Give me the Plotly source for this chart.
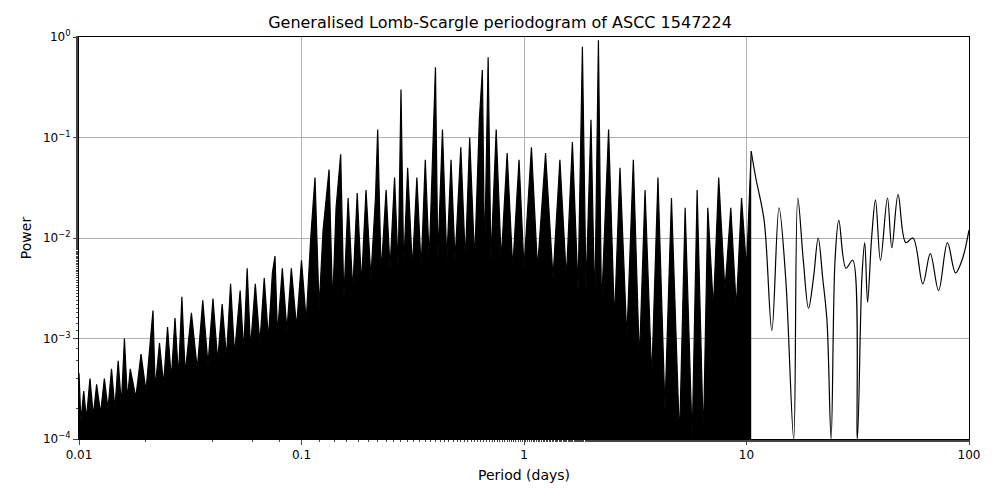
import plotly.graph_objects as go

# dense part of the periodogram (periods in days, power)
period_dense = [0.0100, 0.0102, 0.0105, 0.0108, 0.0112, 0.0116, 0.012, 0.0125, 0.013, 0.0135,
                0.014, 0.0145, 0.015, 0.0155, 0.016, 0.0165, 0.017, 0.018, 0.019, 0.02,
                0.0215, 0.022, 0.023, 0.024, 0.025, 0.026, 0.027, 0.028, 0.029, 0.030,
                0.032, 0.034, 0.036, 0.038, 0.040, 0.042, 0.044, 0.046, 0.048, 0.050,
                0.053, 0.055, 0.057, 0.059, 0.062, 0.065, 0.068, 0.071, 0.074, 0.076,
                0.078, 0.082, 0.086, 0.090, 0.095, 0.100, 0.105, 0.110, 0.115, 0.120,
                0.125, 0.133, 0.138, 0.143, 0.150, 0.155, 0.162, 0.170, 0.178, 0.186,
                0.195, 0.205, 0.215, 0.220, 0.228, 0.240, 0.250, 0.262, 0.272, 0.280,
                0.288, 0.300, 0.315, 0.330, 0.345, 0.360, 0.375, 0.390, 0.400, 0.410,
                0.430, 0.450, 0.470, 0.490, 0.520, 0.545, 0.570, 0.600, 0.630, 0.650,
                0.665, 0.690, 0.710, 0.750, 0.790, 0.840, 0.890, 0.950, 1.000, 1.080,
                1.150, 1.250, 1.350, 1.450, 1.550, 1.650, 1.750, 1.830, 1.900, 2.000,
                2.080, 2.160, 2.230, 2.400, 2.550, 2.700, 2.900, 3.100, 3.300, 3.500,
                3.750, 4.000, 4.300, 4.600, 5.000, 5.300, 5.700, 6.000, 6.400, 6.700,
                7.100, 7.500, 8.000, 8.500, 9.000, 9.500, 10.0, 10.5]
power_dense = [4.5e-4, 1.5e-4, 3e-4, 1.6e-4, 4e-4, 1.7e-4, 3.5e-4, 1.8e-4, 4e-4, 2e-4,
               5e-4, 2e-4, 6e-4, 2.2e-4, 1e-3, 2.5e-4, 5e-4, 2.6e-4, 7e-4, 3e-4,
               1.9e-3, 3.2e-4, 9e-4, 3.5e-4, 1.3e-3, 4e-4, 1.6e-3, 4.2e-4, 2.6e-3, 4.5e-4,
               1.8e-3, 5e-4, 2.4e-3, 5.5e-4, 2.5e-3, 6e-4, 2.2e-3, 6.5e-4, 3.5e-3, 7e-4,
               3e-3, 7.5e-4, 5e-3, 8e-4, 3.5e-3, 9e-4, 4e-3, 1e-3, 4.5e-3, 6.6e-3,
               1.1e-3, 5e-3, 1.2e-3, 5e-3, 1.3e-3, 6e-3, 1.5e-3, 1e-2, 4e-2, 2e-3,
               1.2e-2, 4.8e-2, 2.2e-3, 2e-2, 6.8e-2, 2.5e-3, 2.5e-2, 3e-3, 2.8e-2, 3.5e-3,
               3e-2, 4e-3, 2.5e-2, 0.12, 4.5e-3, 3e-2, 5e-3, 4e-2, 5e-3, 0.3,
               5e-3, 5e-2, 5e-3, 4e-2, 5e-3, 6e-2, 6e-3, 8e-2, 0.5, 6e-3,
               0.12, 6e-3, 6e-2, 6e-3, 8e-2, 6e-3, 0.1, 6e-3, 0.15, 0.47,
               6e-3, 0.63, 6e-3, 0.12, 6e-3, 7e-2, 5e-3, 6e-2, 5e-3, 0.08,
               5e-3, 0.07, 4e-3, 0.06, 4e-3, 0.09, 3e-3, 0.8, 3e-3, 0.15,
               2e-3, 0.93, 2e-3, 0.12, 1.5e-3, 0.05, 1e-3, 0.06, 6e-4, 0.03,
               4e-4, 0.04, 2e-4, 0.025, 1e-4, 0.02, 1e-4, 0.03, 1e-4, 0.02,
               2e-3, 0.04, 3e-3, 0.02, 2e-3, 0.025, 5e-3, 0.073]

# smooth long-period tail
period_tail = [10.5, 11, 12, 13, 14, 15, 16.3, 17, 18, 19, 20, 21, 22, 23, 24, 25, 26, 28, 30,
               31.5, 33, 34, 35, 36.5, 38, 40, 43, 45, 48, 52, 56, 62, 67, 73, 80, 87, 93, 100]
power_tail = [0.073, 0.04, 0.015, 0.0012, 0.02, 0.004, 1e-4, 0.025, 0.006, 0.002, 0.004, 0.01,
              0.004, 0.0015, 1e-4, 0.006, 0.015, 0.005, 0.006, 1e-4, 0.004, 0.009, 0.0023,
              0.01, 0.024, 0.006, 0.025, 0.008, 0.027, 0.009, 0.01, 0.0035, 0.007, 0.003,
              0.009, 0.0045, 0.006, 0.012]

fig = go.Figure()
fig.add_trace(go.Scatter(x=[period_dense[0], period_dense[-1]], y=[1e-6, 1e-6], mode="lines",
                         line=dict(width=0), showlegend=False, hoverinfo="skip"))
fig.add_trace(go.Scatter(x=period_dense, y=power_dense, mode="lines", fill="tonexty",
                         fillcolor="black", line=dict(color="black", width=1.2), showlegend=False))
fig.add_trace(go.Scatter(x=period_tail, y=power_tail, mode="lines", line_shape="spline",
                         line=dict(color="black", width=1.2), showlegend=False))

sup = {-4: "\u22124", -3: "\u22123", -2: "\u22122", -1: "\u22121", 0: "0"}
fig.update_layout(
    autosize=True, plot_bgcolor="white", paper_bgcolor="white",
    font=dict(family="DejaVu Sans", size=12, color="black"),
    title=dict(text="Generalised Lomb-Scargle periodogram of ASCC 1547224", x=0.5, y=0.971,
               xanchor="center", yanchor="middle", font=dict(size=16)),
    margin=dict(l=71, r=20, t=29, b=50),
    xaxis=dict(type="log", range=[-2, 2], title=dict(text="Period (days)", standoff=8),
               tickvals=[0.01, 0.1, 1, 10, 100], ticktext=["0.01", "0.1", "1", "10", "100"],
               showgrid=True, gridcolor="#b0b0b0", ticks="outside", showline=True,
               linecolor="black", mirror=True, zeroline=False,
               minor=dict(ticks="outside", ticklen=2, showgrid=False)),
    yaxis=dict(type="log", range=[-4, 0], title=dict(text="Power", standoff=8),
               tickvals=[1e-4, 1e-3, 1e-2, 1e-1, 1],
               ticktext=[f"10<sup>{sup[k]}</sup>" for k in range(-4, 1)],
               showgrid=True, gridcolor="#b0b0b0", ticks="outside", showline=True,
               linecolor="black", mirror=True, zeroline=False,
               minor=dict(ticks="outside", ticklen=2, showgrid=False)),
)
fig.write_html("out.html", default_width="100%", default_height="100%")
